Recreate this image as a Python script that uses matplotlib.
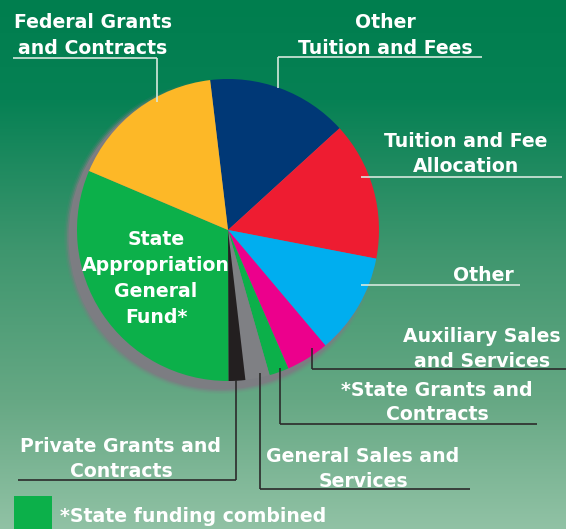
import numpy as np
import matplotlib.pyplot as plt
from matplotlib.patches import Circle, Rectangle

# ============================================================
# DATA (slice shares in %, clockwise from the top)
# ============================================================
categories = ["Other Tuition and Fees", "Tuition and Fee Allocation", "Other",
              "Auxiliary Sales and Services", "*State Grants and Contracts",
              "General Sales and Services", "Private Grants and Contracts",
              "State Appropriation General Fund*", "Federal Grants and Contracts"]
shares = [15.1, 14.8, 10.8, 4.6, 2.1, 2.6, 1.8, 31.4, 16.7]
colors = ["#003876", "#EE1C31", "#00AEEF", "#EC008C", "#0CB04A",
          "#7F8084", "#231F20", "#0CB04A", "#FDB827"]
legend_text = "*State funding combined"

# ============================================================
# LAYOUT (pixel coords, y measured from the top)
# ============================================================
W, H = 566, 529
FS = 13.6
FONT = ['DejaVu Sans']
LIGHT = '#d6e8dd'
DARK = '#2b2b2b'

# label lines: (text, x centre, baseline y)
label_lines = {
    "Federal Grants and Contracts": [("Federal Grants", 93, 28), ("and Contracts", 93, 54)],
    "Other Tuition and Fees": [("Other", 385, 28), ("Tuition and Fees", 385, 54)],
    "Tuition and Fee Allocation": [("Tuition and Fee", 466, 147), ("Allocation", 466, 172)],
    "Other": [("Other", 483, 281)],
    "Auxiliary Sales and Services": [("Auxiliary Sales", 482, 342), ("and Services", 482, 367)],
    "*State Grants and Contracts": [("*State Grants and", 437, 396), ("Contracts", 437, 420)],
    "Private Grants and Contracts": [("Private Grants and", 121, 452), ("Contracts", 121, 477)],
    "General Sales and Services": [("General Sales and", 363, 462), ("Services", 363, 487)],
    "State Appropriation General Fund*": [("State", 156, 245), ("Appropriation", 156, 271),
                                          ("General", 156, 297), ("Fund*", 156, 323)],
}
# leader lines: (x0, x1, y underline, x of stem, y stem end, colour)
leaders = [
    (13, 157, 58, 157, 102, LIGHT),
    (278, 482, 57, 278, 88, LIGHT),
    (361, 562, 177, None, None, LIGHT),
    (361, 520, 285, None, None, LIGHT),
    (312, 566, 369, 312, 348, DARK),
    (280, 537, 424, 280, 368, DARK),
    (18, 236, 480, 236, 380, DARK),
    (260, 470, 489, 260, 373, DARK),
]

fig = plt.figure(figsize=(W / 100, H / 100), dpi=100)
ax = fig.add_axes([0, 0, 1, 1])

# background gradient (row 0 = top of the picture), one row per pixel
yy = np.arange(H) + 0.5
stops_y = [0, 100, 250, 400, H]
stops_c = np.array([[0, 126, 78], [6, 129, 84], [62, 150, 110],
                    [102, 168, 132], [145, 194, 165]]) / 255
grad = np.stack([np.interp(yy, stops_y, stops_c[:, k]) for k in range(3)], axis=1)
ax.imshow(np.repeat(grad[:, None, :], W, axis=1), extent=[0, W, 0, H], aspect='auto',
          zorder=0, origin='upper', interpolation='none')

# pie shadow
cx, cy, r = 228, H - 230, 151
for rr, a in [(157, .12), (155.5, .25), (154, .5), (152.5, 1.0)]:
    ax.add_patch(Circle((cx - 7, cy - 7), rr, color='#7c7d82', alpha=a, lw=0, zorder=1))

ax.pie(shares, colors=colors, startangle=96.8, counterclock=False,
       center=(cx, cy), radius=r, frame=True,
       wedgeprops=dict(linewidth=0, zorder=2))

# leader lines
for x0, x1, yu, xs, ye, c in leaders:
    ax.plot([x0, x1], [H - yu, H - yu], color=c, lw=1.2, zorder=4, solid_capstyle='butt')
    if xs is not None:
        ax.plot([xs, xs], [H - yu, H - ye], color=c, lw=1.2, zorder=4, solid_capstyle='butt')

# labels
for cat in categories:
    for txt, x, yb in label_lines[cat]:
        ax.text(x, H - yb, txt, ha='center', va='baseline', color='white',
                fontsize=FS, fontweight='bold', family=FONT, zorder=6)

# legend swatch
ax.add_patch(Rectangle((14, 0), 38, H - 496, color=colors[7], lw=0, zorder=3))
ax.text(60, H - 522, legend_text, ha='left', va='baseline', color='white',
        fontsize=FS, fontweight='bold', family=FONT, zorder=6)

ax.set_xlim(0, W)
ax.set_ylim(0, H)
ax.set_aspect('auto')
ax.axis('off')

plt.savefig('out.png', dpi=100)
